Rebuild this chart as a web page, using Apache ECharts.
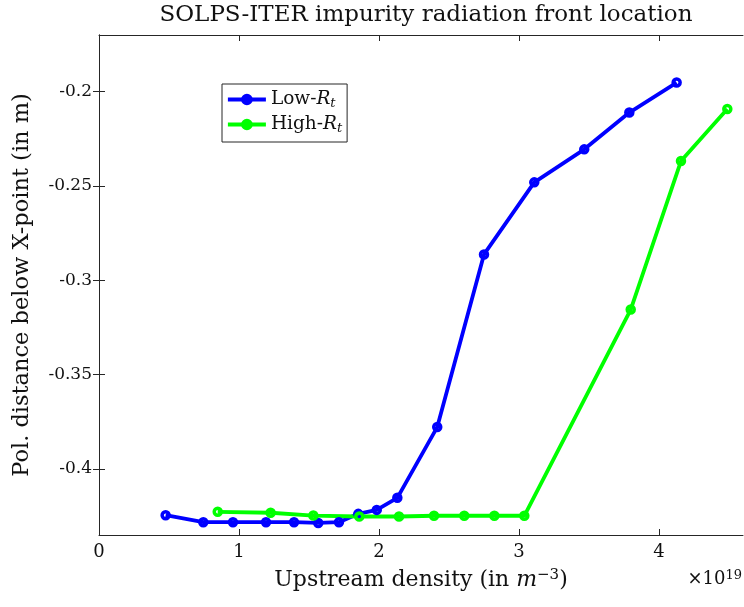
<!DOCTYPE html>
<html>
<head>
<meta charset="utf-8">
<script src="https://cdn.jsdelivr.net/npm/echarts@6/dist/echarts.min.js"></script>
<style>
  html, body { margin: 0; padding: 0; background: #fff; }
  #chart { width: 744px; height: 607px; }
</style>
</head>
<body>
<div id="chart"></div>
<script>
// upstream density in units of 1e19 m^-3, front position in m
var lowDensity = [0.476, 0.745, 0.957, 1.193, 1.393, 1.566, 1.714, 1.852, 1.984, 2.131, 2.416, 2.750, 3.109, 3.466, 3.788, 4.126];
var lowFront = [-0.4245, -0.4282, -0.4282, -0.4282, -0.4282, -0.4286, -0.4282, -0.4238, -0.4217, -0.4153, -0.3778, -0.2863, -0.2481, -0.2306, -0.2111, -0.1952];
var highDensity = [0.848, 1.226, 1.531, 1.859, 2.143, 2.393, 2.609, 2.824, 3.038, 3.798, 4.157, 4.488];
var highFront = [-0.4227, -0.4232, -0.4247, -0.4252, -0.4252, -0.4248, -0.4248, -0.4248, -0.4248, -0.3155, -0.2368, -0.2092];

var xTicks = [0, 1, 2, 3, 4];
var yTicks = [-0.4, -0.35, -0.3, -0.25, -0.2];

var serif = 'DejaVu Serif';
var ink = '#262626';
var lowColor = '#0000ff';
var highColor = '#00ff00';

function pairs(xs, ys) {
    return xs.map(function (x, i) { return [x, ys[i]]; });
}

var chart = echarts.init(document.getElementById('chart'));

function lineSeries(name, color, xs, ys) {
    return {
        name: name,
        type: 'line',
        data: pairs(xs, ys),
        symbol: 'circle',
        symbolSize: 7,
        lineStyle: { color: color, width: 3.8 },
        itemStyle: { color: 'rgba(0,0,0,0)', borderColor: color, borderWidth: 3.5 },
        emphasis: { disabled: true },
        animation: false
    };
}

var option = {
    backgroundColor: '#fff',
    title: {
        text: 'SOLPS-ITER impurity radiation front location',
        left: 421,
        top: -1,
        textAlign: 'center',
        textStyle: { fontFamily: serif, fontWeight: 'normal', fontSize: 23, color: '#111' }
    },
    legend: {
        orient: 'vertical',
        left: 222,
        top: 84,
        data: [
            { name: 'Low-Rt', itemStyle: { color: lowColor, borderColor: lowColor } },
            { name: 'High-Rt', itemStyle: { color: highColor, borderColor: highColor } }
        ],
        backgroundColor: '#fff',
        borderColor: ink,
        borderWidth: 1,
        borderRadius: 0,
        padding: [6, 5, 7, 4],
        itemWidth: 38,
        itemHeight: 12,
        itemGap: 5,
        lineStyle: { width: 3.8 },
        formatter: function (name) {
            return name.replace('-Rt', '-{i|R}{sub|t}');
        },
        textStyle: {
            fontFamily: serif, fontSize: 18.5, color: '#111',
            rich: {
                i: { fontFamily: serif, fontStyle: 'italic', fontSize: 18.5, color: '#111' },
                sub: { fontFamily: serif, fontStyle: 'italic', fontSize: 13, color: '#111', verticalAlign: 'bottom', padding: [8, 0, 0, 0] }
            }
        }
    },
    grid: { left: 99, right: 1, top: 35, bottom: 72 },
    xAxis: [{
        type: 'value',
        min: 0,
        max: 4.6,
        name: 'Upstream density (in {i|m}{sup|−3})',
        nameLocation: 'middle',
        nameGap: 33,
        nameTextStyle: {
            fontFamily: serif, fontSize: 22, color: '#111',
            rich: {
                i: { fontFamily: serif, fontStyle: 'italic', fontSize: 22, color: '#111' },
                sup: { fontFamily: serif, fontSize: 15, color: '#111', verticalAlign: 'top', padding: [0, 0, 9, 0] }
            }
        },
        axisLine: { lineStyle: { color: ink, width: 1 } },
        axisTick: { inside: true, length: 6, customValues: xTicks, lineStyle: { color: ink } },
        axisLabel: { customValues: xTicks, fontFamily: serif, fontSize: 18, color: '#111', margin: 8 },
        splitLine: { show: false }
    }, {
        type: 'value',
        position: 'top',
        min: 0,
        max: 4.6,
        axisLine: { lineStyle: { color: ink, width: 1 } },
        axisTick: { inside: true, length: 6, customValues: xTicks, lineStyle: { color: ink } },
        axisLabel: { show: false },
        splitLine: { show: false }
    }],
    yAxis: [{
        type: 'value',
        min: -0.435,
        max: -0.17,
        name: 'Pol. distance below X-point (in m)',
        nameLocation: 'middle',
        nameGap: 65,
        nameTextStyle: { fontFamily: serif, fontSize: 22.5, color: '#111' },
        axisLine: { show: true, lineStyle: { color: ink, width: 1 } },
        axisTick: { show: true, inside: true, length: 6, customValues: yTicks, lineStyle: { color: ink } },
        axisLabel: { customValues: yTicks, fontFamily: serif, fontSize: 17, color: '#111', margin: 7 },
        splitLine: { show: false }
    }, {
        type: 'value',
        position: 'right',
        min: -0.435,
        max: -0.17,
        axisLine: { show: true, lineStyle: { color: ink, width: 1 } },
        axisTick: { show: true, inside: true, length: 6, customValues: yTicks, lineStyle: { color: ink } },
        axisLabel: { show: false },
        splitLine: { show: false }
    }],
    graphic: [{
        type: 'text',
        right: 2,
        top: 569,
        style: {
            text: '×10{sup|19}',
            fontFamily: serif,
            fontSize: 18,
            fill: '#111',
            rich: {
                sup: { fontFamily: serif, fontSize: 13, fill: '#111', verticalAlign: 'top', padding: [0, 0, 8, 0] }
            }
        }
    }],
    series: [
        lineSeries('Low-Rt', lowColor, lowDensity, lowFront),
        lineSeries('High-Rt', highColor, highDensity, highFront)
    ]
};

chart.setOption(option);
</script>
</body>
</html>
